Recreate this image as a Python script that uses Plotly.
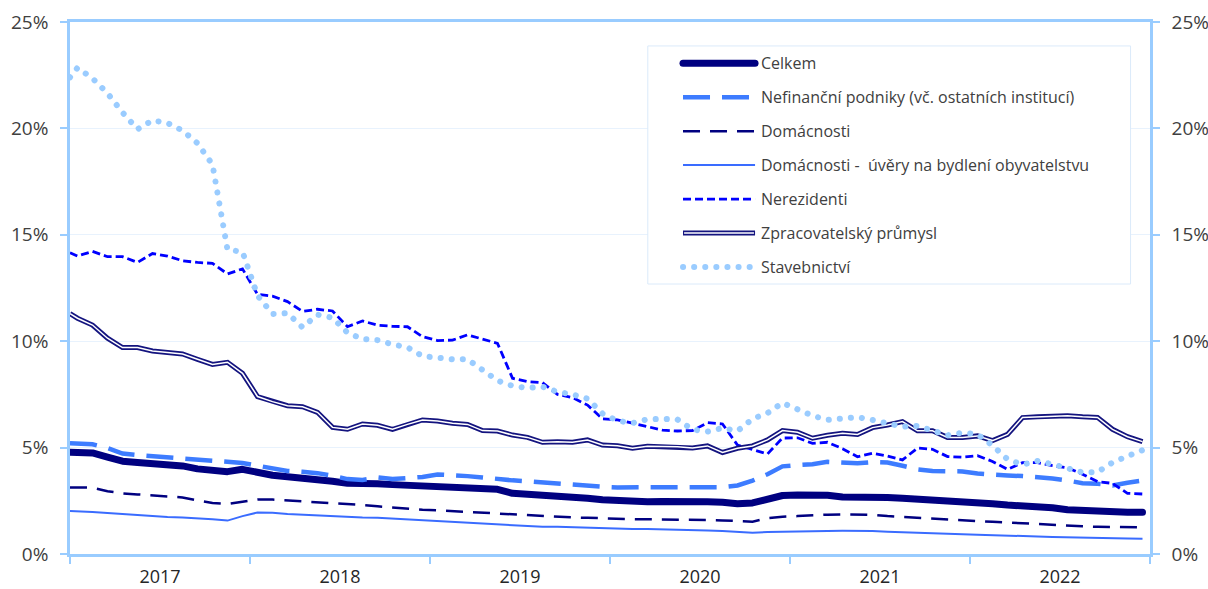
import plotly.graph_objects as go

# Year labels of the x axis (one per 12 months)
years = ["2017", "2018", "2019", "2020", "2021", "2022"]

# Values in %; the first value is the level at the very start of the axis,
# then one value per month Jan 2017 .. Dec 2022
celkem = [4.78,
          4.76, 4.75, 4.55, 4.36, 4.30, 4.27, 4.20, 4.14, 4.00, 3.96, 3.87, 3.98,
          3.80, 3.70, 3.63, 3.58, 3.52, 3.42, 3.32, 3.33, 3.30, 3.26, 3.24, 3.22,
          3.20, 3.17, 3.14, 3.10, 3.04, 2.85, 2.82, 2.77, 2.72, 2.67, 2.62, 2.55,
          2.50, 2.47, 2.46, 2.47, 2.49, 2.47, 2.45, 2.43, 2.36, 2.40, 2.54, 2.75,
          2.77, 2.77, 2.76, 2.68, 2.69, 2.72, 2.66, 2.62, 2.59, 2.52, 2.47, 2.46,
          2.46, 2.36, 2.30, 2.27, 2.22, 2.17, 2.08, 2.03, 1.99, 1.96, 1.96, 1.96]

nefinancni = [5.20,
              5.18, 5.16, 4.98, 4.72, 4.65, 4.60, 4.55, 4.48, 4.40, 4.36, 4.32, 4.28,
              4.15, 4.00, 3.90, 3.86, 3.80, 3.68, 3.52, 3.48, 3.60, 3.52, 3.55, 3.62,
              3.74, 3.72, 3.66, 3.60, 3.52, 3.46, 3.42, 3.36, 3.30, 3.25, 3.20, 3.16,
              3.13, 3.13, 3.13, 3.14, 3.16, 3.15, 3.14, 3.14, 3.22, 3.45, 3.75, 4.12,
              4.18, 4.22, 4.33, 4.27, 4.26, 4.32, 4.30, 4.15, 3.98, 3.90, 3.88, 3.88,
              3.78, 3.71, 3.69, 3.66, 3.62, 3.55, 3.45, 3.33, 3.30, 3.22, 3.35, 3.45]

domacnosti = [3.13,
              3.13, 3.12, 2.95, 2.85, 2.80, 2.75, 2.70, 2.66, 2.52, 2.40, 2.35, 2.44,
              2.56, 2.56, 2.52, 2.48, 2.44, 2.40, 2.35, 2.30, 2.24, 2.18, 2.12, 2.08,
              2.05, 2.01, 1.97, 1.94, 1.90, 1.86, 1.83, 1.79, 1.75, 1.72, 1.70, 1.67,
              1.65, 1.64, 1.63, 1.63, 1.62, 1.61, 1.60, 1.58, 1.56, 1.52, 1.68, 1.75,
              1.78, 1.83, 1.85, 1.86, 1.86, 1.84, 1.78, 1.74, 1.71, 1.66, 1.60, 1.56,
              1.54, 1.51, 1.48, 1.44, 1.40, 1.36, 1.32, 1.30, 1.28, 1.27, 1.26, 1.25]

bydleni = [2.02,
           2.01, 1.97, 1.93, 1.88, 1.82, 1.78, 1.74, 1.71, 1.68, 1.63, 1.57, 1.78,
           1.95, 1.94, 1.88, 1.84, 1.80, 1.77, 1.73, 1.71, 1.70, 1.66, 1.62, 1.58,
           1.55, 1.52, 1.48, 1.43, 1.39, 1.35, 1.31, 1.28, 1.28, 1.26, 1.21, 1.19,
           1.18, 1.17, 1.17, 1.16, 1.15, 1.12, 1.10, 1.08, 1.04, 1.00, 1.03, 1.05,
           1.06, 1.07, 1.08, 1.09, 1.09, 1.08, 1.05, 1.02, 1.00, 0.97, 0.95, 0.93,
           0.91, 0.88, 0.86, 0.84, 0.82, 0.80, 0.78, 0.76, 0.75, 0.74, 0.73, 0.72]

nerezidenti = [14.16,
               14.00, 14.22, 13.97, 13.97, 13.70, 14.12, 14.00, 13.78, 13.70, 13.66, 13.16, 13.40,
               12.20, 12.12, 11.86, 11.40, 11.50, 11.42, 10.68, 10.95, 10.75, 10.70, 10.68, 10.21,
               10.03, 10.05, 10.30, 10.10, 9.90, 8.26, 8.10, 8.05, 7.50, 7.35, 7.00, 6.35,
               6.30, 6.15, 6.00, 5.82, 5.78, 5.80, 6.17, 6.11, 5.12, 4.90, 4.70, 5.45,
               5.46, 5.20, 5.25, 4.95, 4.57, 4.73, 4.60, 4.42, 4.98, 4.92, 4.58, 4.55,
               4.62, 4.35, 3.98, 4.29, 4.29, 4.15, 4.05, 3.75, 3.40, 3.32, 2.85, 2.82]

zpracovatelsky = [11.30,
                  11.08, 10.76, 10.14, 9.70, 9.70, 9.54, 9.46, 9.40, 9.15, 8.91, 9.01, 8.49,
                  7.40, 7.16, 6.97, 6.92, 6.66, 5.95, 5.86, 6.11, 6.05, 5.86, 6.09, 6.30,
                  6.25, 6.14, 6.09, 5.80, 5.78, 5.59, 5.48, 5.25, 5.28, 5.25, 5.36, 5.12,
                  5.09, 4.97, 5.06, 5.04, 5.04, 4.98, 5.08, 4.77, 4.97, 5.08, 5.36, 5.80,
                  5.72, 5.44, 5.58, 5.67, 5.62, 5.94, 6.06, 6.22, 5.79, 5.79, 5.48, 5.48,
                  5.55, 5.33, 5.62, 6.41, 6.45, 6.48, 6.50, 6.45, 6.42, 5.86, 5.51, 5.28]

stavebnictvi = [22.40,
                22.85, 22.35, 21.65, 20.75, 19.96, 20.38, 20.25, 19.90, 19.30, 18.30, 14.30, 14.20,
                12.15, 11.28, 11.32, 10.65, 11.25, 11.10, 10.40, 10.10, 10.05, 9.85, 9.71, 9.30,
                9.22, 9.15, 9.15, 8.62, 8.15, 7.90, 7.80, 7.86, 7.62, 7.50, 7.30, 6.60,
                6.26, 6.15, 6.33, 6.35, 6.32, 5.85, 5.75, 5.92, 5.78, 6.35, 6.62, 7.10,
                6.82, 6.50, 6.30, 6.40, 6.43, 6.30, 6.12, 5.98, 6.02, 5.80, 5.58, 5.70,
                5.62, 5.10, 4.45, 4.20, 4.37, 4.22, 4.00, 3.83, 3.85, 4.30, 4.60, 4.88]

names = [
    "Celkem",
    "Nefinanční podniky (vč. ostatních institucí)",
    "Domácnosti",
    "Domácnosti - \u00a0úvěry na bydlení obyvatelstvu",
    "Nerezidenti",
    "Zpracovatelský průmysl",
    "Stavebnictví",
]
values = [celkem, nefinancni, domacnosti, bydleni, nerezidenti, zpracovatelsky, stavebnictvi]

# line styles: colour, width, dash
DOTS = "#9accff"   # Stavebnictví, turned into round dots below
styles = [
    ("#000080", 7, "solid"),
    ("#3d7cff", 4.5, "27px,12px"),
    ("#000080", 2.5, "17px,10px"),
    ("#3a6cff", 2, "solid"),
    ("#0000ff", 2.8, "8px,4px"),
    ("#14147f", 5, "solid"),
    (DOTS, 6, "5px,6px"),
]

AXIS = "#99ccff"
GRID = "#e8f2fd"
TEXT = "#404040"
FONT = "'Open Sans', 'Noto Sans', sans-serif"

n_months = 12 * len(years)
# first point sits on the left axis, monthly points in the middle of each month
x_pos = [0] + [m + 0.5 for m in range(n_months)]

fig = go.Figure()
for i, (name, vals, (color, width, dash)) in enumerate(zip(names, values, styles)):
    fig.add_trace(go.Scatter(
        x=x_pos, y=vals, name=name, mode="lines",
        line=dict(color=color, width=width, dash=dash),
        yaxis="y2" if i == len(names) - 1 else "y",
        showlegend=False,
    ))
    if name.startswith("Zpracovatel"):
        # white core makes the double line
        fig.add_trace(go.Scatter(
            x=x_pos, y=vals, mode="lines", hoverinfo="skip",
            line=dict(color="white", width=1.5), showlegend=False,
        ))

# legend drawn by hand (Excel style, long line samples)
box = dict(x0=0.535, x1=0.982, y0=0.5075, y1=0.955)
fig.add_shape(type="rect", xref="paper", yref="paper", **box,
              line=dict(color="#dbeafa", width=1), fillcolor="white", layer="above")
row_top, row_gap = 0.9224, 0.0638
sample_x0, sample_x1, text_x = 0.5676, 0.6343, 0.6375
for k, (name, (color, width, dash)) in enumerate(zip(names, styles)):
    yk = row_top - k * row_gap
    fig.add_shape(type="line", xref="paper", yref="paper",
                  x0=sample_x0, x1=sample_x1, y0=yk, y1=yk, layer="above",
                  line=dict(color=color, width=width, dash=dash))
    if name.startswith("Zpracovatel"):
        fig.add_shape(type="line", xref="paper", yref="paper",
                      x0=sample_x0 + 0.001, x1=sample_x1 - 0.001, y0=yk, y1=yk, layer="above",
                      line=dict(color="white", width=1.5))
    fig.add_annotation(x=text_x, y=yk, xref="paper", yref="paper", text=name,
                       showarrow=False, xanchor="left", yanchor="middle",
                       font=dict(family=FONT, size=16, color=TEXT))

yaxis_common = dict(
    range=[0, 25], tick0=0, dtick=5, ticksuffix="%",
    ticks="outside", ticklen=7, tickwidth=1.5, tickcolor=AXIS,
    showline=True, linecolor=AXIS, linewidth=2.5, zeroline=False,
    automargin=False,
    tickfont=dict(family=FONT, size=19, color=TEXT),
)

fig.update_layout(
    width=1208, height=589,
    margin=dict(l=70, r=58, t=22, b=35),
    paper_bgcolor="white", plot_bgcolor="white",
    showlegend=False,
    xaxis=dict(
        range=[0, n_months],
        tickmode="array",
        tickvals=[6 + 12 * k for k in range(len(years))],
        ticktext=years,
        ticks="", showgrid=False, zeroline=False, automargin=False,
        showline=True, linecolor=AXIS, linewidth=2.5, mirror=True,
        tickfont=dict(family=FONT, size=18, color="#262626"),
        ticklabelstandoff=5,
        minor=dict(tickmode="array", tickvals=[12 * k for k in range(len(years) + 1)],
                   ticks="outside", ticklen=7, tickwidth=1.5, tickcolor=AXIS, showgrid=False),
    ),
    yaxis=dict(**yaxis_common, showgrid=True, gridcolor=GRID, gridwidth=1,
               ticklabelstandoff=8),
    yaxis2=dict(**yaxis_common, overlaying="y", side="right", matches="y",
                showgrid=False, ticklabelstandoff=8),
)

# page without body margin; round dots for Stavebnictví and round ends for Celkem
post_js = """
document.body.style.margin = '0';
var gd = document.getElementById('{plot_id}');
gd.querySelectorAll('path').forEach(function (p) {
  if (p.style.stroke === 'rgb(154, 204, 255)') {
    p.style.strokeLinecap = 'round';
    p.style.strokeDasharray = '0.1px, 11px';
  } else if (p.style.stroke === 'rgb(0, 0, 128)' && p.style.strokeWidth === '7px') {
    p.style.strokeLinecap = 'round';
    p.style.strokeLinejoin = 'round';
  }
});
"""

fig.write_html("out.html", post_script=post_js, config={"displayModeBar": False})
